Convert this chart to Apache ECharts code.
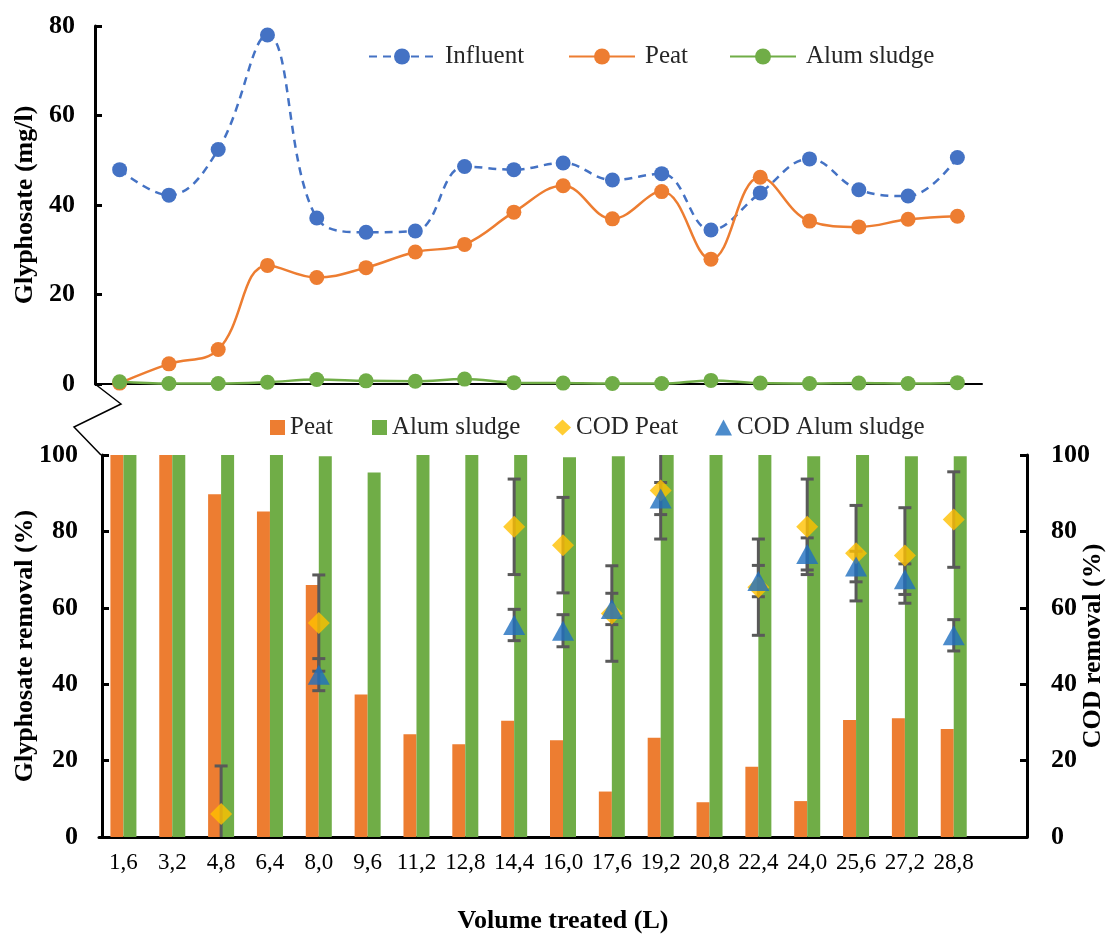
<!DOCTYPE html>
<html>
<head>
<meta charset="utf-8">
<script src="https://cdn.jsdelivr.net/npm/echarts@6/dist/echarts.min.js"></script>
<style>html,body{margin:0;padding:0;background:#fff;}#c{width:1107px;height:936px;}</style>
</head>
<body>
<div id="c"></div>
<script>
var categories = ['1,6','3,2','4,8','6,4','8,0','9,6','11,2','12,8','14,4','16,0','17,6','19,2','20,8','22,4','24,0','25,6','27,2','28,8'];
var influent = [47.9,42.2,52.4,78.0,37.1,33.9,34.2,48.6,47.9,49.4,45.6,47.0,34.4,42.7,50.3,43.4,42.0,50.6];
var peatConc = [0.2,4.5,7.7,26.5,23.8,26.0,29.5,31.2,38.4,44.3,36.9,43.0,27.9,46.2,36.4,35.1,36.8,37.5];
var alumConc = [0.5,0.1,0.1,0.4,1.0,0.7,0.6,1.1,0.3,0.2,0.1,0.1,0.8,0.2,0.1,0.2,0.1,0.3];
var peatRemoval = [100,100,89.7,85.2,66.0,37.3,26.9,24.3,30.4,25.3,11.9,26.0,9.1,18.4,9.4,30.6,31.1,28.3];
var alumRemoval = [100,100,100,100,99.7,95.4,100,100,100,99.4,99.7,100,100,100,99.7,100,99.7,99.7];
var codPeat = [null,null,6.0,null,56.0,null,null,null,81.2,76.4,58.5,90.7,null,65.4,81.2,74.3,73.7,83.1];
var codPeatErr = [null,null,12.6,null,12.6,null,null,null,12.5,12.5,12.5,12.7,null,12.6,12.5,12.5,12.5,12.5];
var codAlum = [null,null,null,null,42.5,null,null,null,55.5,54.0,59.7,88.6,null,67.0,74.1,70.8,67.5,52.8];
var codAlumErr = [null,null,null,null,4.2,null,null,null,4.1,4.2,4.1,4.2,null,4.1,4.2,4.0,4.0,4.1];
var concTicks = {min:0, max:80, interval:20};
var removalTicks = {min:0, max:100, interval:20};

var FONT = 'Liberation Serif';
var chart = echarts.init(document.getElementById('c'));

function errData(vals, errs){
  var out = [];
  for (var i=0;i<vals.length;i++){
    if (vals[i] != null) out.push([i, vals[i]-errs[i], vals[i]+errs[i]]);
  }
  return out;
}
function errRender(params, api){
  var x = api.value(0), lo = api.value(1), hi = api.value(2);
  var p1 = api.coord([x, hi]), p2 = api.coord([x, lo]);
  var w = 6.5;
  var st = {stroke:'#595959', lineWidth:3};
  return {type:'group', children:[
    {type:'line', shape:{x1:p1[0],y1:p1[1],x2:p2[0],y2:p2[1]}, style:st},
    {type:'line', shape:{x1:p1[0]-w,y1:p1[1],x2:p1[0]+w,y2:p1[1]}, style:st},
    {type:'line', shape:{x1:p2[0]-w,y1:p2[1],x2:p2[0]+w,y2:p2[1]}, style:st}
  ]};
}
function dashNull(a){ return a.map(function(v){ return v==null?'-':v; }); }

var tickLbl = {fontFamily:FONT, fontSize:26, fontWeight:'bold', color:'#000'};
var nameSt = {fontFamily:FONT, fontSize:26, fontWeight:'bold', color:'#000'};
var legTxt = {fontFamily:FONT, fontSize:25, color:'#262626'};

var option = {
  animation:false,
  backgroundColor:'#fff',
  grid:[
    {left:95, top:26, width:887, height:358, outerBoundsMode:'none', containLabel:false},
    {left:99, top:455, width:928, height:382, outerBoundsMode:'none', containLabel:false}
  ],
  legend:[
    {data:['Influent'], left:368, top:44, padding:0, itemWidth:66, itemHeight:20, textStyle:Object.assign({padding:[0,0,0,5]},legTxt)},
    {data:['Peat'], left:568, top:44, padding:0, itemWidth:66, itemHeight:20, textStyle:Object.assign({padding:[0,0,0,5]},legTxt)},
    {data:['Alum sludge'], left:729, top:44, padding:0, itemWidth:66, itemHeight:20, textStyle:Object.assign({padding:[0,0,0,5]},legTxt)},
    {data:[{name:'Peat removal', icon:'rect'}], formatter:'Peat', left:270, top:415, padding:0, itemWidth:15, itemHeight:15, textStyle:legTxt},
    {data:[{name:'Alum sludge removal', icon:'rect'}], formatter:'Alum sludge', left:372, top:415, padding:0, itemWidth:15, itemHeight:15, textStyle:legTxt},
    {data:['COD Peat'], left:554, top:415, padding:0, itemWidth:17, itemHeight:16, textStyle:legTxt},
    {data:['COD Alum sludge'], left:715, top:415, padding:0, itemWidth:17, itemHeight:16, textStyle:legTxt}
  ],
  xAxis:[
    {type:'category', gridIndex:0, data:categories, boundaryGap:true,
     axisLine:{lineStyle:{color:'#000', width:2}}, axisTick:{show:false}, axisLabel:{show:false}},
    {type:'category', gridIndex:1, data:categories.concat(['']), boundaryGap:true,
     axisLine:{lineStyle:{color:'#000', width:3}}, axisTick:{show:false},
     axisLabel:{interval:0, margin:14, fontFamily:FONT, fontSize:23, color:'#000'},
     name:'Volume treated (L)', nameLocation:'middle', nameGap:71, nameMoveOverlap:false, nameTextStyle:nameSt}
  ],
  yAxis:[
    {type:'value', gridIndex:0, min:concTicks.min, max:concTicks.max, interval:concTicks.interval,
     axisLine:{show:true, lineStyle:{color:'#000', width:3}},
     axisTick:{show:true, inside:true, length:7, lineStyle:{color:'#000', width:3}},
     splitLine:{show:false}, axisLabel:Object.assign({margin:20}, tickLbl),
     name:'Glyphosate (mg/l)', nameLocation:'middle', nameGap:57, nameRotate:90, nameMoveOverlap:false, nameTextStyle:nameSt},
    {type:'value', gridIndex:1, min:removalTicks.min, max:removalTicks.max, interval:removalTicks.interval, offset:-3,
     axisLine:{show:true, lineStyle:{color:'#000', width:3}},
     axisTick:{show:true, inside:true, length:7, lineStyle:{color:'#000', width:3}},
     splitLine:{show:false}, axisLabel:Object.assign({margin:24}, tickLbl),
     name:'Glyphosate removal (%)', nameLocation:'middle', nameGap:64, nameRotate:90, nameMoveOverlap:false, nameTextStyle:nameSt},
    {type:'value', gridIndex:1, position:'right', min:removalTicks.min, max:removalTicks.max, interval:removalTicks.interval,
     axisLine:{show:true, lineStyle:{color:'#000', width:3}},
     axisTick:{show:true, inside:true, length:7, lineStyle:{color:'#000', width:3}},
     splitLine:{show:false}, axisLabel:Object.assign({margin:24}, tickLbl),
     name:'COD removal (%)', nameLocation:'middle', nameGap:53, nameRotate:90, nameMoveOverlap:false, nameTextStyle:nameSt}
  ],
  series:[
    {name:'Influent', type:'line', xAxisIndex:0, yAxisIndex:0, data:influent, smooth:0.4,
     symbol:'circle', symbolSize:15, lineStyle:{color:'#4472C4', width:2.5, type:[8,6]},
     itemStyle:{color:'#4472C4'}, z:3},
    {name:'Peat', type:'line', xAxisIndex:0, yAxisIndex:0, data:peatConc, smooth:0.4,
     symbol:'circle', symbolSize:15, lineStyle:{color:'#ED7D31', width:2.5},
     itemStyle:{color:'#ED7D31'}, z:4},
    {name:'Alum sludge', type:'line', xAxisIndex:0, yAxisIndex:0, data:alumConc, smooth:0.4,
     symbol:'circle', symbolSize:15, lineStyle:{color:'#70AD47', width:2.5},
     itemStyle:{color:'#70AD47'}, z:5},
    {name:'Peat removal', type:'bar', xAxisIndex:1, yAxisIndex:1, data:peatRemoval,
     barWidth:13, barGap:'0%', itemStyle:{color:'#ED7D31'}, z:2},
    {name:'Alum sludge removal', type:'bar', xAxisIndex:1, yAxisIndex:1, data:alumRemoval,
     barWidth:13, barGap:'0%', itemStyle:{color:'#70AD47'}, z:2},
    {name:'COD Peat err', type:'custom', xAxisIndex:1, yAxisIndex:2, data:errData(codPeat, codPeatErr),
     renderItem:errRender, clip:true, encode:{x:0, y:[1,2]}, z:3, silent:true},
    {name:'COD Alum err', type:'custom', xAxisIndex:1, yAxisIndex:2, data:errData(codAlum, codAlumErr),
     renderItem:errRender, clip:true, encode:{x:0, y:[1,2]}, z:3, silent:true},
    {name:'COD Peat', type:'scatter', xAxisIndex:1, yAxisIndex:2, data:dashNull(codPeat),
     symbol:'diamond', symbolSize:[22,22], itemStyle:{color:'#FFC000'}, z:5},
    {name:'COD Alum sludge', type:'scatter', xAxisIndex:1, yAxisIndex:2, data:dashNull(codAlum),
     symbol:'triangle', symbolSize:[22,20], itemStyle:{color:'#1F6FBF'}, z:6}
  ],
  graphic:[
    {type:'polyline', shape:{points:[[95,384],[121,404],[74,427],[101,455]]},
     style:{stroke:'#000', lineWidth:1.5, fill:null}, z:10}
  ]
};
chart.setOption(option);
</script>
</body>
</html>
